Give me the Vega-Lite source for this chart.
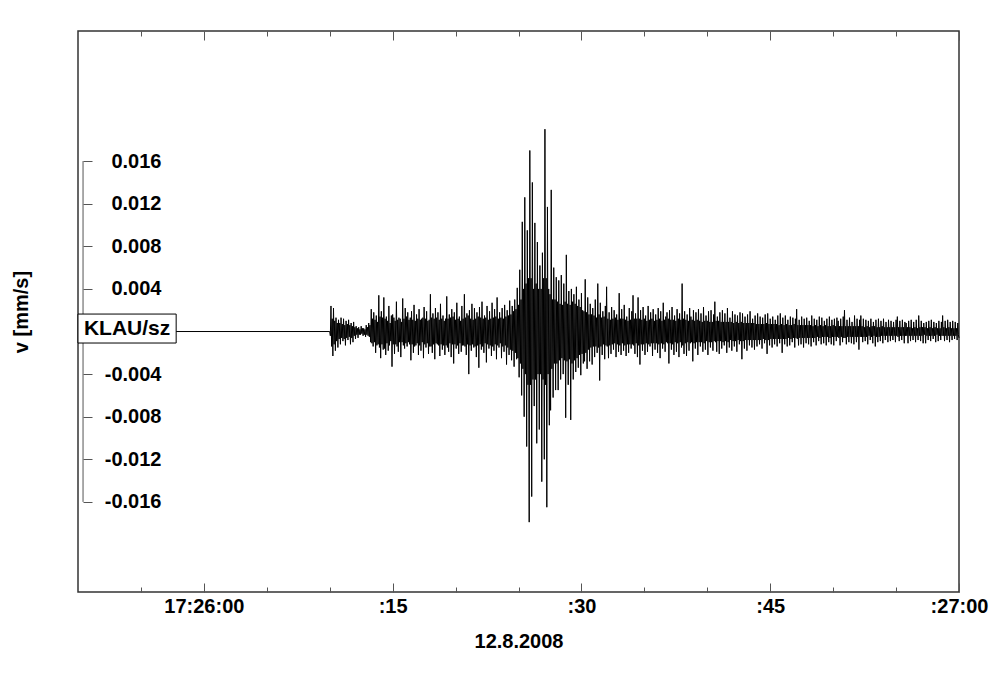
{
"$schema": "https://vega.github.io/schema/vega-lite/v6.json",
"width": 881, "height": 561,
"autosize": {"type": "none"},
"padding": {"left": 78, "top": 31, "right": 41, "bottom": 85},
"background": "white",
"config": {
 "view": {"stroke": "#333", "strokeWidth": 1.5},
 "font": "Liberation Sans",
 "axis": {"labelFont": "Liberation Sans", "labelFontWeight": "bold", "labelFontSize": 20, "labelColor": "#000", "titleFont": "Liberation Sans", "titleFontWeight": "bold", "titleFontSize": 20, "titleColor": "#000", "tickColor": "#555", "tickWidth": 1, "grid": false, "domain": false, "labelFlush": false, "labelOverlap": false}
},
"resolve": {"axis": {"x": "independent", "y": "independent"}},
"layer": [
 {
  "data": {"values": [
{"t":-10,"v":0},{"t":10,"v":0},{"t":10.05,"v":-0.0004},
{"t":10.1,"v":0.0024},{"t":10.15,"v":-0.0014},{"t":10.2,"v":0.0012},{"t":10.25,"v":-0.0023},{"t":10.3,"v":0.0022},{"t":10.35,"v":-0.0012},{"t":10.4,"v":0.001},{"t":10.45,"v":-0.0018},{"t":10.5,"v":0.0013},{"t":10.55,"v":-0.0009},{"t":10.6,"v":0.0008},{"t":10.65,"v":-0.0015},{"t":10.7,"v":0.0011},{"t":10.75,"v":-0.0007},{"t":10.8,"v":0.0008},{"t":10.85,"v":-0.0012},{"t":10.9,"v":0.0013},{"t":10.95,"v":-0.0006},
{"t":11,"v":0.0007},{"t":11.05,"v":-0.0009},{"t":11.1,"v":0.0012},{"t":11.15,"v":-0.0007},{"t":11.2,"v":0.0006},{"t":11.25,"v":-0.0013},{"t":11.3,"v":0.001},{"t":11.35,"v":-0.0006},{"t":11.4,"v":0.0007},{"t":11.45,"v":-0.0008},{"t":11.5,"v":0.0011},{"t":11.55,"v":-0.0005},{"t":11.6,"v":0.0006},{"t":11.65,"v":-0.0012},{"t":11.7,"v":0.0008},{"t":11.75,"v":-0.0006},{"t":11.8,"v":0.0005},{"t":11.85,"v":-0.001},{"t":11.9,"v":0.0009},{"t":11.95,"v":-0.0004},
{"t":12,"v":0.0004},{"t":12.05,"v":-0.0007},{"t":12.1,"v":0.0005},{"t":12.15,"v":-0.0003},{"t":12.2,"v":0.0003},{"t":12.25,"v":-0.0006},{"t":12.3,"v":0.0004},{"t":12.35,"v":-0.0003},{"t":12.4,"v":0.0002},{"t":12.45,"v":-0.0003},{"t":12.5,"v":0.0005},{"t":12.55,"v":-0.0002},{"t":12.6,"v":0.0003},{"t":12.65,"v":-0.0004},{"t":12.7,"v":0.0003},{"t":12.75,"v":-0.0003},{"t":12.8,"v":0.0002},{"t":12.85,"v":-0.0005},{"t":12.9,"v":0.0006},{"t":12.95,"v":-0.0003},
{"t":13,"v":0.0004},{"t":13.05,"v":-0.0004},{"t":13.1,"v":0.0008},{"t":13.15,"v":-0.0005},{"t":13.2,"v":0.0006},{"t":13.25,"v":-0.001},{"t":13.3,"v":0.0021},{"t":13.35,"v":-0.0011},{"t":13.4,"v":0.0012},{"t":13.45,"v":-0.0014},{"t":13.5,"v":0.0018},{"t":13.55,"v":-0.001},{"t":13.6,"v":0.0011},{"t":13.65,"v":-0.002},{"t":13.7,"v":0.0015},{"t":13.75,"v":-0.0013},{"t":13.8,"v":0.0009},{"t":13.85,"v":-0.0012},{"t":13.9,"v":0.0034},{"t":13.95,"v":-0.0015},
{"t":14,"v":0.0014},{"t":14.05,"v":-0.0025},{"t":14.1,"v":0.0019},{"t":14.15,"v":-0.0012},{"t":14.2,"v":0.0013},{"t":14.25,"v":-0.0017},{"t":14.3,"v":0.0032},{"t":14.35,"v":-0.0016},{"t":14.4,"v":0.0012},{"t":14.45,"v":-0.0022},{"t":14.5,"v":0.0014},{"t":14.55,"v":-0.0011},{"t":14.6,"v":0.001},{"t":14.65,"v":-0.0018},{"t":14.7,"v":0.0024},{"t":14.75,"v":-0.0013},{"t":14.8,"v":0.0008},{"t":14.85,"v":-0.0009},{"t":14.9,"v":0.0015},{"t":14.95,"v":-0.0033},
{"t":15,"v":0.0016},{"t":15.05,"v":-0.0012},{"t":15.1,"v":0.0013},{"t":15.15,"v":-0.0021},{"t":15.2,"v":0.001},{"t":15.25,"v":-0.0012},{"t":15.3,"v":0.0028},{"t":15.35,"v":-0.0014},{"t":15.4,"v":0.0011},{"t":15.45,"v":-0.0019},{"t":15.5,"v":0.0013},{"t":15.55,"v":-0.001},{"t":15.6,"v":0.0012},{"t":15.65,"v":-0.0024},{"t":15.7,"v":0.0009},{"t":15.75,"v":-0.001},{"t":15.8,"v":0.0031},{"t":15.85,"v":-0.0013},{"t":15.9,"v":0.0012},{"t":15.95,"v":-0.0016},
{"t":16,"v":0.0022},{"t":16.05,"v":-0.0011},{"t":16.1,"v":0.0014},{"t":16.15,"v":-0.0014},{"t":16.2,"v":0.0018},{"t":16.25,"v":-0.001},{"t":16.3,"v":0.0011},{"t":16.35,"v":-0.0012},{"t":16.4,"v":0.0013},{"t":16.45,"v":-0.0027},{"t":16.5,"v":0.0019},{"t":16.55,"v":-0.0012},{"t":16.6,"v":0.0011},{"t":16.65,"v":-0.002},{"t":16.7,"v":0.0025},{"t":16.75,"v":-0.0014},{"t":16.8,"v":0.001},{"t":16.85,"v":-0.0013},{"t":16.9,"v":0.0016},{"t":16.95,"v":-0.0011},
{"t":17,"v":0.0012},{"t":17.05,"v":-0.0022},{"t":17.1,"v":0.0021},{"t":17.15,"v":-0.0013},{"t":17.2,"v":0.0011},{"t":17.25,"v":-0.0018},{"t":17.3,"v":0.0012},{"t":17.35,"v":-0.001},{"t":17.4,"v":0.0013},{"t":17.45,"v":-0.0025},{"t":17.5,"v":0.0023},{"t":17.55,"v":-0.0012},{"t":17.6,"v":0.0012},{"t":17.65,"v":-0.0015},{"t":17.7,"v":0.0019},{"t":17.75,"v":-0.0011},{"t":17.8,"v":0.001},{"t":17.85,"v":-0.0021},{"t":17.9,"v":0.0011},{"t":17.95,"v":-0.0014},
{"t":18,"v":0.0035},{"t":18.05,"v":-0.0014},{"t":18.1,"v":0.0013},{"t":18.15,"v":-0.002},{"t":18.2,"v":0.0017},{"t":18.25,"v":-0.0012},{"t":18.3,"v":0.0012},{"t":18.35,"v":-0.0026},{"t":18.4,"v":0.0022},{"t":18.45,"v":-0.0011},{"t":18.5,"v":0.0013},{"t":18.55,"v":-0.0012},{"t":18.6,"v":0.0018},{"t":18.65,"v":-0.0013},{"t":18.7,"v":0.0011},{"t":18.75,"v":-0.0023},{"t":18.8,"v":0.0026},{"t":18.85,"v":-0.0012},{"t":18.9,"v":0.0012},{"t":18.95,"v":-0.0017},
{"t":19,"v":0.0015},{"t":19.05,"v":-0.0013},{"t":19.1,"v":0.001},{"t":19.15,"v":-0.0022},{"t":19.2,"v":0.0012},{"t":19.25,"v":-0.0013},{"t":19.3,"v":0.0033},{"t":19.35,"v":-0.0015},{"t":19.4,"v":0.0012},{"t":19.45,"v":-0.0019},{"t":19.5,"v":0.0016},{"t":19.55,"v":-0.0011},{"t":19.6,"v":0.0013},{"t":19.65,"v":-0.0024},{"t":19.7,"v":0.0021},{"t":19.75,"v":-0.0012},{"t":19.8,"v":0.0014},{"t":19.85,"v":-0.003},{"t":19.9,"v":0.0018},{"t":19.95,"v":-0.0012},
{"t":20,"v":0.0011},{"t":20.05,"v":-0.0016},{"t":20.1,"v":0.0027},{"t":20.15,"v":-0.0013},{"t":20.2,"v":0.0012},{"t":20.25,"v":-0.0021},{"t":20.3,"v":0.0014},{"t":20.35,"v":-0.0011},{"t":20.4,"v":0.001},{"t":20.45,"v":-0.0019},{"t":20.5,"v":0.0024},{"t":20.55,"v":-0.0013},{"t":20.6,"v":0.0012},{"t":20.65,"v":-0.0013},{"t":20.7,"v":0.0035},{"t":20.75,"v":-0.0014},{"t":20.8,"v":0.0013},{"t":20.85,"v":-0.0022},{"t":20.9,"v":0.0017},{"t":20.95,"v":-0.0012},
{"t":21,"v":0.0015},{"t":21.05,"v":-0.004},{"t":21.1,"v":0.002},{"t":21.15,"v":-0.0013},{"t":21.2,"v":0.0012},{"t":21.25,"v":-0.0018},{"t":21.3,"v":0.0026},{"t":21.35,"v":-0.0012},{"t":21.4,"v":0.0011},{"t":21.45,"v":-0.0015},{"t":21.5,"v":0.0022},{"t":21.55,"v":-0.0014},{"t":21.6,"v":0.0012},{"t":21.65,"v":-0.0024},{"t":21.7,"v":0.0018},{"t":21.75,"v":-0.0013},{"t":21.8,"v":0.0014},{"t":21.85,"v":-0.0034},{"t":21.9,"v":0.0023},{"t":21.95,"v":-0.0012},
{"t":22,"v":0.0013},{"t":22.05,"v":-0.0017},{"t":22.1,"v":0.0028},{"t":22.15,"v":-0.0014},{"t":22.2,"v":0.0012},{"t":22.25,"v":-0.002},{"t":22.3,"v":0.0015},{"t":22.35,"v":-0.0011},{"t":22.4,"v":0.0013},{"t":22.45,"v":-0.0029},{"t":22.5,"v":0.0024},{"t":22.55,"v":-0.0012},{"t":22.6,"v":0.0011},{"t":22.65,"v":-0.0016},{"t":22.7,"v":0.0019},{"t":22.75,"v":-0.0013},{"t":22.8,"v":0.0012},{"t":22.85,"v":-0.0023},{"t":22.9,"v":0.0027},{"t":22.95,"v":-0.0014},
{"t":23,"v":0.0013},{"t":23.05,"v":-0.0018},{"t":23.1,"v":0.0021},{"t":23.15,"v":-0.0012},{"t":23.2,"v":0.0014},{"t":23.25,"v":-0.0026},{"t":23.3,"v":0.0032},{"t":23.35,"v":-0.0013},{"t":23.4,"v":0.0012},{"t":23.45,"v":-0.0015},{"t":23.5,"v":0.0018},{"t":23.55,"v":-0.0011},{"t":23.6,"v":0.0013},{"t":23.65,"v":-0.0025},{"t":23.7,"v":0.0022},{"t":23.75,"v":-0.0014},{"t":23.8,"v":0.0012},{"t":23.85,"v":-0.0019},{"t":23.9,"v":0.0025},{"t":23.95,"v":-0.0013},
{"t":24,"v":0.0014},{"t":24.05,"v":-0.0031},{"t":24.1,"v":0.002},{"t":24.15,"v":-0.0015},{"t":24.2,"v":0.0015},{"t":24.25,"v":-0.0022},{"t":24.3,"v":0.0029},{"t":24.35,"v":-0.0017},{"t":24.4,"v":0.0016},{"t":24.45,"v":-0.0027},{"t":24.5,"v":0.0024},{"t":24.55,"v":-0.0018},{"t":24.6,"v":0.0019},{"t":24.65,"v":-0.0033},{"t":24.7,"v":0.003},{"t":24.75,"v":-0.002},{"t":24.8,"v":0.0021},{"t":24.85,"v":-0.0026},{"t":24.9,"v":0.0041},{"t":24.95,"v":-0.0025},
{"t":25,"v":0.0025},{"t":25.05,"v":-0.0043},{"t":25.1,"v":0.0058},{"t":25.15,"v":-0.003},{"t":25.2,"v":0.003},{"t":25.25,"v":-0.006},{"t":25.3,"v":0.0103},{"t":25.35,"v":-0.0035},{"t":25.4,"v":0.004},{"t":25.45,"v":-0.008},{"t":25.5,"v":0.0126},{"t":25.55,"v":-0.004},{"t":25.6,"v":0.0045},{"t":25.65,"v":-0.0108},{"t":25.7,"v":0.0095},{"t":25.75,"v":-0.005},{"t":25.8,"v":0.005},{"t":25.85,"v":-0.0179},{"t":25.9,"v":0.017},{"t":25.95,"v":-0.005},
{"t":26,"v":0.005},{"t":26.05,"v":-0.0155},{"t":26.1,"v":0.014},{"t":26.15,"v":-0.0045},{"t":26.2,"v":0.004},{"t":26.25,"v":-0.007},{"t":26.3,"v":0.0102},{"t":26.35,"v":-0.0045},{"t":26.4,"v":0.0045},{"t":26.45,"v":-0.0105},{"t":26.5,"v":0.0084},{"t":26.55,"v":-0.004},{"t":26.6,"v":0.004},{"t":26.65,"v":-0.0092},{"t":26.7,"v":0.0062},{"t":26.75,"v":-0.004},{"t":26.8,"v":0.004},{"t":26.85,"v":-0.0141},{"t":26.9,"v":0.0074},{"t":26.95,"v":-0.0045},
{"t":27,"v":0.005},{"t":27.05,"v":-0.012},{"t":27.1,"v":0.019},{"t":27.15,"v":-0.005},{"t":27.2,"v":0.005},{"t":27.25,"v":-0.0165},{"t":27.3,"v":0.0117},{"t":27.35,"v":-0.004},{"t":27.4,"v":0.004},{"t":27.45,"v":-0.0088},{"t":27.5,"v":0.0035},{"t":27.55,"v":-0.0074},{"t":27.6,"v":0.0133},{"t":27.65,"v":-0.0035},{"t":27.7,"v":0.003},{"t":27.75,"v":-0.0062},{"t":27.8,"v":0.006},{"t":27.85,"v":-0.003},{"t":27.9,"v":0.003},{"t":27.95,"v":-0.0055},
{"t":28,"v":0.0051},{"t":28.05,"v":-0.003},{"t":28.1,"v":0.0028},{"t":28.15,"v":-0.0055},{"t":28.2,"v":0.0048},{"t":28.25,"v":-0.0027},{"t":28.3,"v":0.0026},{"t":28.35,"v":-0.0045},{"t":28.4,"v":0.0053},{"t":28.45,"v":-0.0025},{"t":28.5,"v":0.0025},{"t":28.55,"v":-0.004},{"t":28.6,"v":0.0045},{"t":28.65,"v":-0.0027},{"t":28.7,"v":0.0028},{"t":28.75,"v":-0.0081},{"t":28.8,"v":0.0072},{"t":28.85,"v":-0.0028},{"t":28.9,"v":0.0026},{"t":28.95,"v":-0.005},
{"t":29,"v":0.0038},{"t":29.05,"v":-0.0026},{"t":29.1,"v":0.0025},{"t":29.15,"v":-0.0083},{"t":29.2,"v":0.004},{"t":29.25,"v":-0.003},{"t":29.3,"v":0.0028},{"t":29.35,"v":-0.0045},{"t":29.4,"v":0.0035},{"t":29.45,"v":-0.0027},{"t":29.5,"v":0.0026},{"t":29.55,"v":-0.0038},{"t":29.6,"v":0.0042},{"t":29.65,"v":-0.0025},{"t":29.7,"v":0.0024},{"t":29.75,"v":-0.0034},{"t":29.8,"v":0.003},{"t":29.85,"v":-0.0022},{"t":29.9,"v":0.0023},{"t":29.95,"v":-0.0041},
{"t":30,"v":0.0036},{"t":30.05,"v":-0.0021},{"t":30.1,"v":0.002},{"t":30.15,"v":-0.003},{"t":30.2,"v":0.0019},{"t":30.25,"v":-0.0028},{"t":30.3,"v":0.0049},{"t":30.35,"v":-0.002},{"t":30.4,"v":0.0018},{"t":30.45,"v":-0.0035},{"t":30.5,"v":0.0032},{"t":30.55,"v":-0.0017},{"t":30.6,"v":0.0016},{"t":30.65,"v":-0.0028},{"t":30.7,"v":0.0026},{"t":30.75,"v":-0.0015},{"t":30.8,"v":0.0016},{"t":30.85,"v":-0.0031},{"t":30.9,"v":0.0022},{"t":30.95,"v":-0.0014},
{"t":31,"v":0.0015},{"t":31.05,"v":-0.0024},{"t":31.1,"v":0.003},{"t":31.15,"v":-0.0014},{"t":31.2,"v":0.0013},{"t":31.25,"v":-0.002},{"t":31.3,"v":0.0045},{"t":31.35,"v":-0.0015},{"t":31.4,"v":0.0016},{"t":31.45,"v":-0.0046},{"t":31.5,"v":0.0027},{"t":31.55,"v":-0.0014},{"t":31.6,"v":0.0013},{"t":31.65,"v":-0.0022},{"t":31.7,"v":0.0019},{"t":31.75,"v":-0.0012},{"t":31.8,"v":0.0014},{"t":31.85,"v":-0.0026},{"t":31.9,"v":0.0024},{"t":31.95,"v":-0.0013},
{"t":32,"v":0.0042},{"t":32.05,"v":-0.0014},{"t":32.1,"v":0.0012},{"t":32.15,"v":-0.0025},{"t":32.2,"v":0.0018},{"t":32.25,"v":-0.0013},{"t":32.3,"v":0.0011},{"t":32.35,"v":-0.0021},{"t":32.4,"v":0.0023},{"t":32.45,"v":-0.0012},{"t":32.5,"v":0.0012},{"t":32.55,"v":-0.0017},{"t":32.6,"v":0.002},{"t":32.65,"v":-0.0011},{"t":32.7,"v":0.0013},{"t":32.75,"v":-0.0024},{"t":32.8,"v":0.0016},{"t":32.85,"v":-0.0012},{"t":32.9,"v":0.0011},{"t":32.95,"v":-0.0019},
{"t":33,"v":0.0036},{"t":33.05,"v":-0.0013},{"t":33.1,"v":0.0012},{"t":33.15,"v":-0.0022},{"t":33.2,"v":0.0021},{"t":33.25,"v":-0.0011},{"t":33.3,"v":0.0012},{"t":33.35,"v":-0.0018},{"t":33.4,"v":0.0025},{"t":33.45,"v":-0.0013},{"t":33.5,"v":0.0011},{"t":33.55,"v":-0.0023},{"t":33.6,"v":0.0014},{"t":33.65,"v":-0.0012},{"t":33.7,"v":0.001},{"t":33.75,"v":-0.002},{"t":33.8,"v":0.0022},{"t":33.85,"v":-0.0012},{"t":33.9,"v":0.0011},{"t":33.95,"v":-0.0016},
{"t":34,"v":0.0019},{"t":34.05,"v":-0.0012},{"t":34.1,"v":0.0034},{"t":34.15,"v":-0.0013},{"t":34.2,"v":0.0012},{"t":34.25,"v":-0.0021},{"t":34.3,"v":0.0017},{"t":34.35,"v":-0.0011},{"t":34.4,"v":0.0012},{"t":34.45,"v":-0.0024},{"t":34.5,"v":0.0032},{"t":34.55,"v":-0.0013},{"t":34.6,"v":0.0012},{"t":34.65,"v":-0.0031},{"t":34.7,"v":0.002},{"t":34.75,"v":-0.0012},{"t":34.8,"v":0.0011},{"t":34.85,"v":-0.0018},{"t":34.9,"v":0.0023},{"t":34.95,"v":-0.0012},
{"t":35,"v":0.0012},{"t":35.05,"v":-0.0022},{"t":35.1,"v":0.0015},{"t":35.15,"v":-0.0011},{"t":35.2,"v":0.001},{"t":35.25,"v":-0.0019},{"t":35.3,"v":0.0024},{"t":35.35,"v":-0.0012},{"t":35.4,"v":0.0011},{"t":35.45,"v":-0.0014},{"t":35.5,"v":0.0018},{"t":35.55,"v":-0.0011},{"t":35.6,"v":0.0012},{"t":35.65,"v":-0.0023},{"t":35.7,"v":0.0021},{"t":35.75,"v":-0.0011},{"t":35.8,"v":0.001},{"t":35.85,"v":-0.0017},{"t":35.9,"v":0.0016},{"t":35.95,"v":-0.0011},
{"t":36,"v":0.0011},{"t":36.05,"v":-0.002},{"t":36.1,"v":0.0022},{"t":36.15,"v":-0.0012},{"t":36.2,"v":0.0012},{"t":36.25,"v":-0.0025},{"t":36.3,"v":0.0019},{"t":36.35,"v":-0.0011},{"t":36.4,"v":0.001},{"t":36.45,"v":-0.0016},{"t":36.5,"v":0.0027},{"t":36.55,"v":-0.0012},{"t":36.6,"v":0.0011},{"t":36.65,"v":-0.0019},{"t":36.7,"v":0.0014},{"t":36.75,"v":-0.001},{"t":36.8,"v":0.0018},{"t":36.85,"v":-0.0011},{"t":36.9,"v":0.0012},{"t":36.95,"v":-0.003},
{"t":37,"v":0.002},{"t":37.05,"v":-0.0011},{"t":37.1,"v":0.0011},{"t":37.15,"v":-0.0017},{"t":37.2,"v":0.0023},{"t":37.25,"v":-0.0012},{"t":37.3,"v":0.0011},{"t":37.35,"v":-0.0022},{"t":37.4,"v":0.0015},{"t":37.45,"v":-0.001},{"t":37.5,"v":0.001},{"t":37.55,"v":-0.0019},{"t":37.6,"v":0.0021},{"t":37.65,"v":-0.0011},{"t":37.7,"v":0.0012},{"t":37.75,"v":-0.0024},{"t":37.8,"v":0.0017},{"t":37.85,"v":-0.001},{"t":37.9,"v":0.0011},{"t":37.95,"v":-0.0015},
{"t":38,"v":0.0045},{"t":38.05,"v":-0.0013},{"t":38.1,"v":0.0012},{"t":38.15,"v":-0.0021},{"t":38.2,"v":0.0019},{"t":38.25,"v":-0.0011},{"t":38.3,"v":0.0011},{"t":38.35,"v":-0.0023},{"t":38.4,"v":0.0016},{"t":38.45,"v":-0.001},{"t":38.5,"v":0.001},{"t":38.55,"v":-0.0018},{"t":38.6,"v":0.0022},{"t":38.65,"v":-0.0011},{"t":38.7,"v":0.0014},{"t":38.75,"v":-0.001},{"t":38.8,"v":0.0011},{"t":38.85,"v":-0.0028},{"t":38.9,"v":0.002},{"t":38.95,"v":-0.0011},
{"t":39,"v":0.001},{"t":39.05,"v":-0.0016},{"t":39.1,"v":0.0018},{"t":39.15,"v":-0.001},{"t":39.2,"v":0.0011},{"t":39.25,"v":-0.0022},{"t":39.3,"v":0.0021},{"t":39.35,"v":-0.001},{"t":39.4,"v":0.001},{"t":39.45,"v":-0.0014},{"t":39.5,"v":0.0017},{"t":39.55,"v":-0.001},{"t":39.6,"v":0.0009},{"t":39.65,"v":-0.0019},{"t":39.7,"v":0.0023},{"t":39.75,"v":-0.0011},{"t":39.8,"v":0.001},{"t":39.85,"v":-0.0017},{"t":39.9,"v":0.0015},{"t":39.95,"v":-0.0009},
{"t":40,"v":0.001},{"t":40.05,"v":-0.0022},{"t":40.1,"v":0.0019},{"t":40.15,"v":-0.001},{"t":40.2,"v":0.0009},{"t":40.25,"v":-0.0015},{"t":40.3,"v":0.002},{"t":40.35,"v":-0.001},{"t":40.4,"v":0.0009},{"t":40.45,"v":-0.0018},{"t":40.5,"v":0.0016},{"t":40.55,"v":-0.0009},{"t":40.6,"v":0.0028},{"t":40.65,"v":-0.001},{"t":40.7,"v":0.001},{"t":40.75,"v":-0.0019},{"t":40.8,"v":0.0014},{"t":40.85,"v":-0.0009},{"t":40.9,"v":0.001},{"t":40.95,"v":-0.0021},
{"t":41,"v":0.0018},{"t":41.05,"v":-0.0009},{"t":41.1,"v":0.0009},{"t":41.15,"v":-0.0016},{"t":41.2,"v":0.002},{"t":41.25,"v":-0.001},{"t":41.3,"v":0.0009},{"t":41.35,"v":-0.0013},{"t":41.4,"v":0.0017},{"t":41.45,"v":-0.0009},{"t":41.5,"v":0.0009},{"t":41.55,"v":-0.002},{"t":41.6,"v":0.0022},{"t":41.65,"v":-0.001},{"t":41.7,"v":0.0009},{"t":41.75,"v":-0.0015},{"t":41.8,"v":0.0013},{"t":41.85,"v":-0.0008},{"t":41.9,"v":0.0009},{"t":41.95,"v":-0.0018},
{"t":42,"v":0.0019},{"t":42.05,"v":-0.0009},{"t":42.1,"v":0.0008},{"t":42.15,"v":-0.0014},{"t":42.2,"v":0.0016},{"t":42.25,"v":-0.0009},{"t":42.3,"v":0.0009},{"t":42.35,"v":-0.0019},{"t":42.4,"v":0.0015},{"t":42.45,"v":-0.0008},{"t":42.5,"v":0.0008},{"t":42.55,"v":-0.0012},{"t":42.6,"v":0.0018},{"t":42.65,"v":-0.0009},{"t":42.7,"v":0.0009},{"t":42.75,"v":-0.0026},{"t":42.8,"v":0.0017},{"t":42.85,"v":-0.0009},{"t":42.9,"v":0.0008},{"t":42.95,"v":-0.0016},
{"t":43,"v":0.0014},{"t":43.05,"v":-0.0008},{"t":43.1,"v":0.0008},{"t":43.15,"v":-0.0018},{"t":43.2,"v":0.0016},{"t":43.25,"v":-0.0008},{"t":43.3,"v":0.0008},{"t":43.35,"v":-0.0013},{"t":43.4,"v":0.0019},{"t":43.45,"v":-0.0008},{"t":43.5,"v":0.0008},{"t":43.55,"v":-0.0015},{"t":43.6,"v":0.0012},{"t":43.65,"v":-0.0008},{"t":43.7,"v":0.0008},{"t":43.75,"v":-0.0017},{"t":43.8,"v":0.0015},{"t":43.85,"v":-0.0008},{"t":43.9,"v":0.0007},{"t":43.95,"v":-0.0014},
{"t":44,"v":0.0017},{"t":44.05,"v":-0.0008},{"t":44.1,"v":0.0007},{"t":44.15,"v":-0.0012},{"t":44.2,"v":0.0014},{"t":44.25,"v":-0.0008},{"t":44.3,"v":0.0007},{"t":44.35,"v":-0.0016},{"t":44.4,"v":0.0013},{"t":44.45,"v":-0.0007},{"t":44.5,"v":0.0007},{"t":44.55,"v":-0.0011},{"t":44.6,"v":0.0016},{"t":44.65,"v":-0.0008},{"t":44.7,"v":0.0008},{"t":44.75,"v":-0.0021},{"t":44.8,"v":0.0017},{"t":44.85,"v":-0.0008},{"t":44.9,"v":0.0007},{"t":44.95,"v":-0.0013},
{"t":45,"v":0.0012},{"t":45.05,"v":-0.0007},{"t":45.1,"v":0.0007},{"t":45.15,"v":-0.0015},{"t":45.2,"v":0.0014},{"t":45.25,"v":-0.0007},{"t":45.3,"v":0.0007},{"t":45.35,"v":-0.0012},{"t":45.4,"v":0.0011},{"t":45.45,"v":-0.0007},{"t":45.5,"v":0.0007},{"t":45.55,"v":-0.0014},{"t":45.6,"v":0.0015},{"t":45.65,"v":-0.0007},{"t":45.7,"v":0.0006},{"t":45.75,"v":-0.0011},{"t":45.8,"v":0.0017},{"t":45.85,"v":-0.0007},{"t":45.9,"v":0.0007},{"t":45.95,"v":-0.002},
{"t":46,"v":0.0013},{"t":46.05,"v":-0.0007},{"t":46.1,"v":0.0006},{"t":46.15,"v":-0.0012},{"t":46.2,"v":0.0015},{"t":46.25,"v":-0.0007},{"t":46.3,"v":0.0007},{"t":46.35,"v":-0.0014},{"t":46.4,"v":0.0011},{"t":46.45,"v":-0.0006},{"t":46.5,"v":0.0006},{"t":46.55,"v":-0.0013},{"t":46.6,"v":0.0014},{"t":46.65,"v":-0.0007},{"t":46.7,"v":0.0006},{"t":46.75,"v":-0.001},{"t":46.8,"v":0.0013},{"t":46.85,"v":-0.0006},{"t":46.9,"v":0.0007},{"t":46.95,"v":-0.0015},
{"t":47,"v":0.0012},{"t":47.05,"v":-0.0006},{"t":47.1,"v":0.0021},{"t":47.15,"v":-0.0007},{"t":47.2,"v":0.0006},{"t":47.25,"v":-0.0013},{"t":47.3,"v":0.0011},{"t":47.35,"v":-0.0006},{"t":47.4,"v":0.0006},{"t":47.45,"v":-0.0012},{"t":47.5,"v":0.0014},{"t":47.55,"v":-0.0006},{"t":47.6,"v":0.0006},{"t":47.65,"v":-0.0015},{"t":47.7,"v":0.0012},{"t":47.75,"v":-0.0006},{"t":47.8,"v":0.0006},{"t":47.85,"v":-0.0011},{"t":47.9,"v":0.0013},{"t":47.95,"v":-0.0006},
{"t":48,"v":0.0006},{"t":48.05,"v":-0.0012},{"t":48.1,"v":0.001},{"t":48.15,"v":-0.0006},{"t":48.2,"v":0.0006},{"t":48.25,"v":-0.0014},{"t":48.3,"v":0.0015},{"t":48.35,"v":-0.0006},{"t":48.4,"v":0.0005},{"t":48.45,"v":-0.001},{"t":48.5,"v":0.0012},{"t":48.55,"v":-0.0006},{"t":48.6,"v":0.0006},{"t":48.65,"v":-0.0013},{"t":48.7,"v":0.0011},{"t":48.75,"v":-0.0005},{"t":48.8,"v":0.0005},{"t":48.85,"v":-0.0009},{"t":48.9,"v":0.0014},{"t":48.95,"v":-0.0006},
{"t":49,"v":0.0006},{"t":49.05,"v":-0.0012},{"t":49.1,"v":0.0013},{"t":49.15,"v":-0.0005},{"t":49.2,"v":0.0005},{"t":49.25,"v":-0.0011},{"t":49.3,"v":0.001},{"t":49.35,"v":-0.0005},{"t":49.4,"v":0.0006},{"t":49.45,"v":-0.0013},{"t":49.5,"v":0.0012},{"t":49.55,"v":-0.0005},{"t":49.6,"v":0.0005},{"t":49.65,"v":-0.001},{"t":49.7,"v":0.0014},{"t":49.75,"v":-0.0006},{"t":49.8,"v":0.0005},{"t":49.85,"v":-0.0012},{"t":49.9,"v":0.0011},{"t":49.95,"v":-0.0005},
{"t":50,"v":0.0006},{"t":50.05,"v":-0.0013},{"t":50.1,"v":0.0012},{"t":50.15,"v":-0.0005},{"t":50.2,"v":0.0005},{"t":50.25,"v":-0.0009},{"t":50.3,"v":0.0013},{"t":50.35,"v":-0.0005},{"t":50.4,"v":0.001},{"t":50.45,"v":-0.0006},{"t":50.5,"v":0.0005},{"t":50.55,"v":-0.0013},{"t":50.6,"v":0.0012},{"t":50.65,"v":-0.0005},{"t":50.7,"v":0.0005},{"t":50.75,"v":-0.001},{"t":50.8,"v":0.0014},{"t":50.85,"v":-0.0006},{"t":50.9,"v":0.002},{"t":50.95,"v":-0.0006},
{"t":51,"v":0.0005},{"t":51.05,"v":-0.0012},{"t":51.1,"v":0.0011},{"t":51.15,"v":-0.0005},{"t":51.2,"v":0.0005},{"t":51.25,"v":-0.001},{"t":51.3,"v":0.0013},{"t":51.35,"v":-0.0005},{"t":51.4,"v":0.0005},{"t":51.45,"v":-0.0011},{"t":51.5,"v":0.0009},{"t":51.55,"v":-0.0005},{"t":51.6,"v":0.0005},{"t":51.65,"v":-0.0012},{"t":51.7,"v":0.0015},{"t":51.75,"v":-0.0005},{"t":51.8,"v":0.0005},{"t":51.85,"v":-0.001},{"t":51.9,"v":0.0012},{"t":51.95,"v":-0.0005},
{"t":52,"v":0.0005},{"t":52.05,"v":-0.0017},{"t":52.1,"v":0.0011},{"t":52.15,"v":-0.0005},{"t":52.2,"v":0.0015},{"t":52.25,"v":-0.0005},{"t":52.3,"v":0.0005},{"t":52.35,"v":-0.001},{"t":52.4,"v":0.0012},{"t":52.45,"v":-0.0005},{"t":52.5,"v":0.0004},{"t":52.55,"v":-0.0009},{"t":52.6,"v":0.0011},{"t":52.65,"v":-0.0005},{"t":52.7,"v":0.0005},{"t":52.75,"v":-0.0012},{"t":52.8,"v":0.001},{"t":52.85,"v":-0.0004},{"t":52.9,"v":0.0004},{"t":52.95,"v":-0.0008},
{"t":53,"v":0.0012},{"t":53.05,"v":-0.0005},{"t":53.1,"v":0.0005},{"t":53.15,"v":-0.0011},{"t":53.2,"v":0.0009},{"t":53.25,"v":-0.0004},{"t":53.3,"v":0.0005},{"t":53.35,"v":-0.0014},{"t":53.4,"v":0.0011},{"t":53.45,"v":-0.0005},{"t":53.5,"v":0.0004},{"t":53.55,"v":-0.001},{"t":53.6,"v":0.0012},{"t":53.65,"v":-0.0005},{"t":53.7,"v":0.0004},{"t":53.75,"v":-0.0009},{"t":53.8,"v":0.001},{"t":53.85,"v":-0.0004},{"t":53.9,"v":0.0005},{"t":53.95,"v":-0.0011},
{"t":54,"v":0.0012},{"t":54.05,"v":-0.0004},{"t":54.1,"v":0.0004},{"t":54.15,"v":-0.0008},{"t":54.2,"v":0.0009},{"t":54.25,"v":-0.0004},{"t":54.3,"v":0.0004},{"t":54.35,"v":-0.001},{"t":54.4,"v":0.0011},{"t":54.45,"v":-0.0004},{"t":54.5,"v":0.0004},{"t":54.55,"v":-0.0009},{"t":54.6,"v":0.001},{"t":54.65,"v":-0.0004},{"t":54.7,"v":0.0004},{"t":54.75,"v":-0.0008},{"t":54.8,"v":0.0009},{"t":54.85,"v":-0.0004},{"t":54.9,"v":0.0004},{"t":54.95,"v":-0.001},
{"t":55,"v":0.0011},{"t":55.05,"v":-0.0004},{"t":55.1,"v":0.0014},{"t":55.15,"v":-0.0005},{"t":55.2,"v":0.0004},{"t":55.25,"v":-0.0009},{"t":55.3,"v":0.001},{"t":55.35,"v":-0.0004},{"t":55.4,"v":0.0004},{"t":55.45,"v":-0.0008},{"t":55.5,"v":0.0011},{"t":55.55,"v":-0.0004},{"t":55.6,"v":0.0004},{"t":55.65,"v":-0.0011},{"t":55.7,"v":0.0009},{"t":55.75,"v":-0.0004},{"t":55.8,"v":0.0008},{"t":55.85,"v":-0.0004},{"t":55.9,"v":0.0004},{"t":55.95,"v":-0.0011},
{"t":56,"v":0.001},{"t":56.05,"v":-0.0004},{"t":56.1,"v":0.0004},{"t":56.15,"v":-0.0009},{"t":56.2,"v":0.0011},{"t":56.25,"v":-0.0004},{"t":56.3,"v":0.0003},{"t":56.35,"v":-0.0008},{"t":56.4,"v":0.0009},{"t":56.45,"v":-0.0004},{"t":56.5,"v":0.0004},{"t":56.55,"v":-0.001},{"t":56.6,"v":0.0011},{"t":56.65,"v":-0.0004},{"t":56.7,"v":0.0003},{"t":56.75,"v":-0.0008},{"t":56.8,"v":0.0015},{"t":56.85,"v":-0.0004},{"t":56.9,"v":0.0004},{"t":56.95,"v":-0.0009},
{"t":57,"v":0.001},{"t":57.05,"v":-0.0004},{"t":57.1,"v":0.0004},{"t":57.15,"v":-0.0011},{"t":57.2,"v":0.0008},{"t":57.25,"v":-0.0003},{"t":57.3,"v":0.0004},{"t":57.35,"v":-0.0011},{"t":57.4,"v":0.0009},{"t":57.45,"v":-0.0004},{"t":57.5,"v":0.0003},{"t":57.55,"v":-0.0008},{"t":57.6,"v":0.001},{"t":57.65,"v":-0.0004},{"t":57.7,"v":0.0004},{"t":57.75,"v":-0.0009},{"t":57.8,"v":0.0011},{"t":57.85,"v":-0.0004},{"t":57.9,"v":0.0003},{"t":57.95,"v":-0.0007},
{"t":58,"v":0.0009},{"t":58.05,"v":-0.0004},{"t":58.1,"v":0.0004},{"t":58.15,"v":-0.001},{"t":58.2,"v":0.0008},{"t":58.25,"v":-0.0003},{"t":58.3,"v":0.0003},{"t":58.35,"v":-0.0009},{"t":58.4,"v":0.001},{"t":58.45,"v":-0.0004},{"t":58.5,"v":0.0003},{"t":58.55,"v":-0.0008},{"t":58.6,"v":0.0009},{"t":58.65,"v":-0.0004},{"t":58.7,"v":0.0015},{"t":58.75,"v":-0.0004},{"t":58.8,"v":0.0004},{"t":58.85,"v":-0.0009},{"t":58.9,"v":0.001},{"t":58.95,"v":-0.0004},
{"t":59,"v":0.0003},{"t":59.05,"v":-0.0008},{"t":59.1,"v":0.0011},{"t":59.15,"v":-0.0004},{"t":59.2,"v":0.0004},{"t":59.25,"v":-0.001},{"t":59.3,"v":0.0009},{"t":59.35,"v":-0.0004},{"t":59.4,"v":0.0003},{"t":59.45,"v":-0.0008},{"t":59.5,"v":0.001},{"t":59.55,"v":-0.0004},{"t":59.6,"v":0.0003},{"t":59.65,"v":-0.0007},{"t":59.7,"v":0.0009},{"t":59.75,"v":-0.0004},{"t":59.8,"v":0.0003},{"t":59.85,"v":-0.0008},{"t":59.9,"v":0.0008},{"t":59.95,"v":-0.0003},
{"t":60,"v":-0.0006}
  ]},
  "mark": {"type": "line", "color": "#000", "strokeWidth": 1, "interpolate": "linear"},
  "encoding": {
   "x": {"field": "t", "type": "quantitative", "scale": {"domain": [-10, 60], "nice": false, "zero": false},
    "axis": {"orient": "bottom", "values": [0, 15, 30, 45, 60], "tickSize": -9, "labelPadding": 13, "labelBaseline": "top",
     "labelExpr": "datum.value == 0 ? '17:26:00' : datum.value == 60 ? ':27:00' : ':' + datum.value",
     "title": "12.8.2008", "titlePadding": 15}},
   "y": {"field": "v", "type": "quantitative", "scale": {"domain": [-0.02446, 0.02822], "nice": false, "zero": false},
    "axis": {"orient": "right", "offset": -876, "values": [-0.016, -0.012, -0.008, -0.004, 0.004, 0.008, 0.012, 0.016],
     "tickSize": 9, "labelAlign": "right", "labelBaseline": "middle", "labelPadding": 69,
     "labelExpr": "(datum.value < 0 ? '-' : '') + format(abs(datum.value), '.3f')", "title": null}}
  }
 },
 {
  "data": {"values": [{}]},
  "mark": {"type": "rule", "color": "#555", "strokeWidth": 1},
  "encoding": {
   "x": {"datum": -9.6, "type": "quantitative", "scale": {"domain": [-10, 60], "nice": false, "zero": false},
    "axis": {"orient": "bottom", "values": [-5, 5, 10, 20, 25, 35, 40, 50, 55], "tickSize": -5, "labels": false, "title": null}},
   "y": {"datum": -0.016, "type": "quantitative", "scale": {"domain": [-0.02446, 0.02822], "nice": false, "zero": false},
    "axis": {"orient": "left", "ticks": false, "labels": false, "title": "v [mm/s]", "titlePadding": 47}},
   "y2": {"datum": 0.016}
  }
 },
 {
  "data": {"values": [{"station": "KLAU/sz"}]},
  "mark": {"type": "rect", "fill": "white", "stroke": "#000", "strokeWidth": 1},
  "encoding": {
   "x": {"datum": -10, "type": "quantitative", "scale": {"domain": [-10, 60], "nice": false, "zero": false},
    "axis": {"orient": "top", "values": [0, 15, 30, 45, 60], "tickSize": -9, "labels": false, "title": null}},
   "x2": {"datum": -2.2},
   "y": {"datum": 0.00164, "type": "quantitative", "scale": {"domain": [-0.02446, 0.02822], "nice": false, "zero": false}, "axis": null},
   "y2": {"datum": -0.00108}
  }
 },
 {
  "data": {"values": [{"station": "KLAU/sz"}]},
  "mark": {"type": "text", "font": "Liberation Sans", "fontWeight": "bold", "fontSize": 21, "color": "#000", "align": "center", "baseline": "middle"},
  "encoding": {
   "text": {"field": "station"},
   "x": {"datum": -6.1, "type": "quantitative", "scale": {"domain": [-10, 60], "nice": false, "zero": false},
    "axis": {"orient": "top", "values": [-5, 5, 10, 20, 25, 35, 40, 50, 55], "tickSize": -5, "labels": false, "title": null}},
   "y": {"datum": 0.0002, "type": "quantitative", "scale": {"domain": [-0.02446, 0.02822], "nice": false, "zero": false}, "axis": null}
  }
 }
]
}
